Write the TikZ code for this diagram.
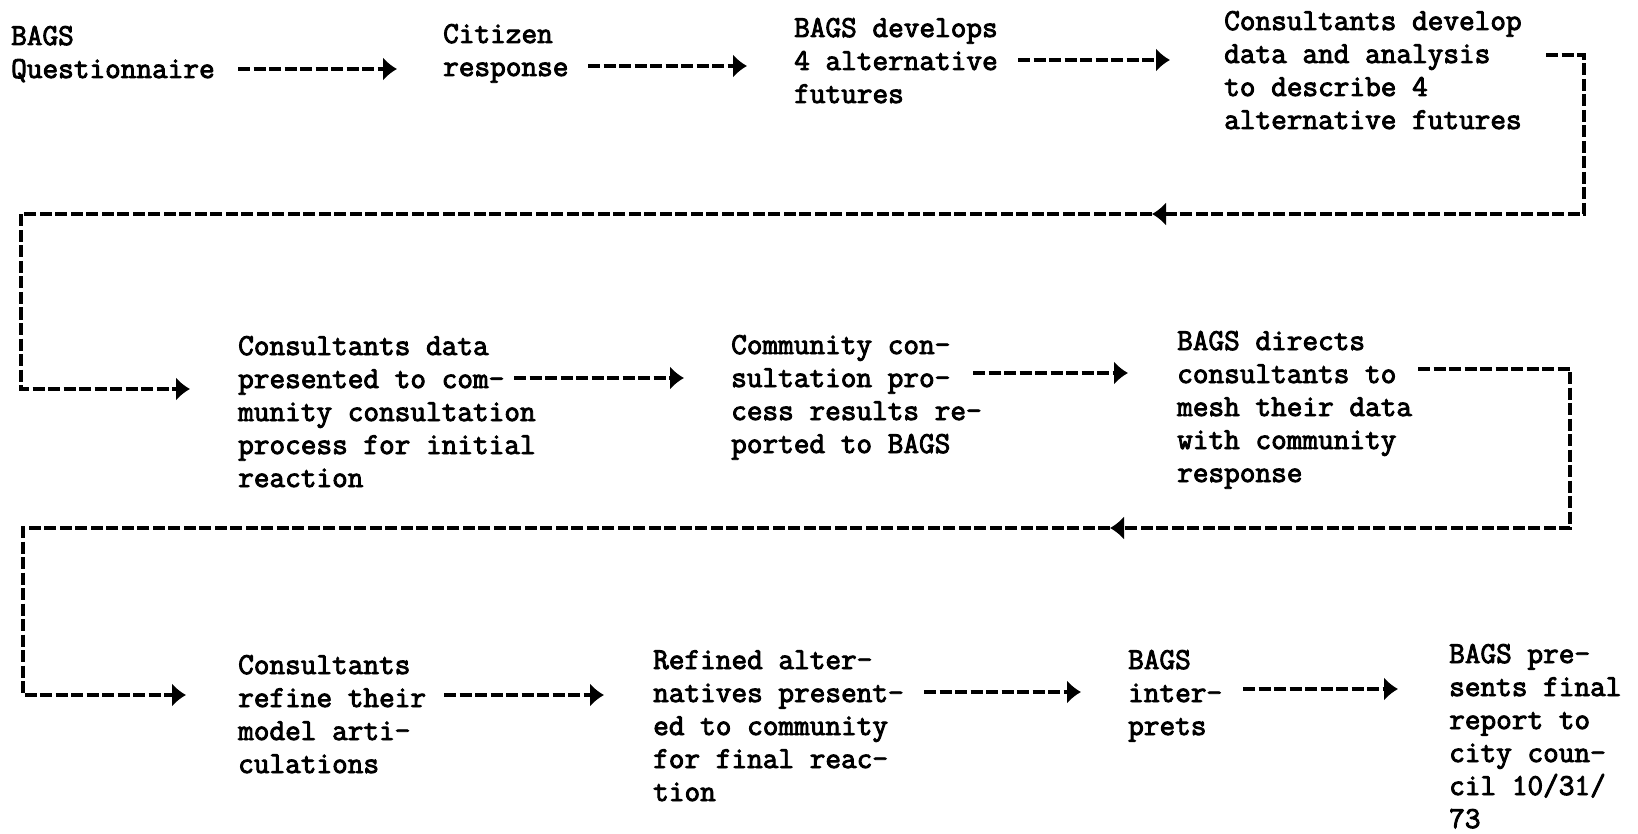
\documentclass[tikz,border=0pt]{standalone}
\usepackage{fontspec}
\setmonofont{Latin Modern Mono}[FakeBold=3]
\usetikzlibrary{arrows.meta}
\tikzset{
  txt/.style={anchor=base west, inner sep=0pt, align=left, font=\ttfamily\fontsize{30.4}{33}\selectfont},
  flow/.style={line width=3.4pt, dash pattern=on 12pt off 3.5pt, black},
  arr/.style={flow, -{Latex[length=14pt,width=24pt]}},
}
\begin{document}
\begin{tikzpicture}[x=1pt,y=-1pt]
\useasboundingbox (0,0) rectangle (1638,834);
% row 1 (anchor = baseline of the last line)
\node[txt] (q) at (11,78) {BAGS\\Questionnaire};
\node[txt] (cit) at (443,76) {Citizen\\response};
\node[txt] (dev) at (794,103) {BAGS develops\\4 alternative\\futures};
\node[txt] (cons) at (1224,129) {Consultants develop\\data and analysis\\to describe 4\\alternative futures};
% row 2
\node[txt] (pres) at (238,487) {Consultants data\\presented to com-\\munity consultation\\process for initial\\reaction};
\node[txt] (comm) at (731,453) {Community con-\\sultation pro-\\cess results re-\\ported to BAGS};
\node[txt] (dir) at (1177,482) {BAGS directs\\consultants to\\mesh their data\\with community\\response};
% row 3
\node[txt] (refine) at (238,773) {Consultants\\refine their\\model arti-\\culations};
\node[txt] (refined) at (653,801) {Refined alter-\\natives present-\\ed to community\\for final reac-\\tion};
\node[txt] (interp) at (1128,735) {BAGS\\inter-\\prets};
\node[txt] (final) at (1449,828) {BAGS pre-\\sents final\\report to\\city coun-\\cil 10/31/\\73};

% connector coordinates
\coordinate (a1s) at (238,69);  \coordinate (a1e) at (397,69);
\coordinate (a2s) at (588,66);  \coordinate (a2e) at (747,66);
\coordinate (a3s) at (1018,60); \coordinate (a3e) at (1170,60);
\coordinate (l1a) at (1546,55); \coordinate (l1b) at (1584,55);
\coordinate (l1c) at (1584,214); \coordinate (l1m) at (1152,214);
\coordinate (l1d) at (21,214); \coordinate (l1e) at (21,389);
\coordinate (l1f) at (190,389);
\coordinate (a4s) at (514,378); \coordinate (a4e) at (684,378);
\coordinate (a5s) at (973,373); \coordinate (a5e) at (1128,373);
\coordinate (l2a) at (1418,369); \coordinate (l2b) at (1570,369);
\coordinate (l2c) at (1570,528); \coordinate (l2m) at (1110,528);
\coordinate (l2d) at (23,528); \coordinate (l2e) at (23,695);
\coordinate (l2f) at (186,695);
\coordinate (a6s) at (444,695); \coordinate (a6e) at (604,695);
\coordinate (a7s) at (924,692); \coordinate (a7e) at (1081,692);
\coordinate (a8s) at (1243,689); \coordinate (a8e) at (1398,689);

\draw[arr] (a1s) -- (a1e);
\draw[arr] (a2s) -- (a2e);
\draw[arr] (a3s) -- (a3e);
\draw[arr] (l1a) -- (l1b) -- (l1c) -- (l1m);
\draw[arr] (l1m) -- (l1d) -- (l1e) -- (l1f);
\draw[arr] (a4s) -- (a4e);
\draw[arr] (a5s) -- (a5e);
\draw[arr] (l2a) -- (l2b) -- (l2c) -- (l2m);
\draw[arr] (l2m) -- (l2d) -- (l2e) -- (l2f);
\draw[arr] (a6s) -- (a6e);
\draw[arr] (a7s) -- (a7e);
\draw[arr] (a8s) -- (a8e);
\end{tikzpicture}
\end{document}
